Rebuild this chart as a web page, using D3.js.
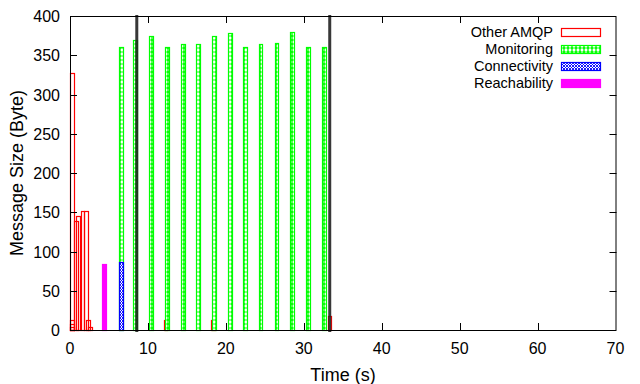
<!DOCTYPE html>
<html><head><meta charset="utf-8">
<script src="https://cdn.jsdelivr.net/npm/d3@7"></script>
<style>body{margin:0;background:#fff}svg{display:block}text{font-family:"Liberation Sans",Arial,sans-serif}</style>
</head><body>
<script>
// Data (time in s, message size in bytes)
const otherAMQP = [
  [0.3,327],[0.3,13],[0.3,8],[0.3,4],[0.75,139],[1.0,145],[1.6,152],[2.0,152],
  [2.35,13],[2.6,4],[12.25,13],[18.3,13],[33.3,18]
];
const monitoring = [
  [6.49,360],[8.3,370],[10.45,375],[12.5,361],[14.45,364],[16.45,364],[18.5,375],
  [20.5,378],[22.5,361],[24.45,364],[26.5,365],[28.5,379],[30.5,360],[32.55,361]
];
const connectivity = [[6.49,86]];
const reachability = [[4.41,84]];
const events = [8.57, 33.33];
const xTicks = [0,10,20,30,40,50,60,70];
const yTicks = [0,50,100,150,200,250,300,350,400];
const seriesNames = ["Other AMQP","Monitoring","Connectivity","Reachability"];
const boxWidth = 0.5;

const W=640,H=384;
const L=70,R=616.5,T=16,B=330;
const x=d3.scaleLinear().domain([0,70]).range([L,R-1]);
const y=d3.scaleLinear().domain([0,400]).range([B,T]);

const svg=d3.select("body").append("svg").attr("width",W).attr("height",H);
const defs=svg.append("defs");
const pg=defs.append("pattern").attr("id","pGreen").attr("patternUnits","userSpaceOnUse").attr("width",4).attr("height",4);
pg.append("rect").attr("width",4).attr("height",4).attr("fill","#00ff00");
pg.append("ellipse").attr("cx",2).attr("cy",2).attr("rx",1.5).attr("ry",1.7).attr("fill","#ffffff");
const pb=defs.append("pattern").attr("id","pBlue").attr("patternUnits","userSpaceOnUse").attr("width",3).attr("height",3);
pb.append("rect").attr("width",3).attr("height",3).attr("fill","#fff");
pb.append("path").attr("d","M0,0L3,3M3,0L0,3").attr("stroke","#0000ff").attr("stroke-width",0.9);

const styles=[
  {fill:"none",stroke:"#ff0000"},
  {fill:"url(#pGreen)",stroke:"#00ff00"},
  {fill:"url(#pBlue)",stroke:"#0000ff"},
  {fill:"#ff00ff",stroke:"#ff00ff"}
];
const allSeries=[otherAMQP,monitoring,connectivity,reachability];

const plot=svg.append("g");
allSeries.forEach((data,i)=>{
  plot.selectAll(null).data(data).enter().append("rect")
    .attr("x",d=>Math.round(x(d[0]-boxWidth/2))+0.5)
    .attr("y",d=>Math.round(y(d[1]))+0.5)
    .attr("width",d=>Math.round(x(d[0]+boxWidth/2))-Math.round(x(d[0]-boxWidth/2)))
    .attr("height",d=>B-Math.round(y(d[1])))
    .attr("fill",styles[i].fill).attr("stroke",styles[i].stroke).attr("stroke-width",1.2);
});

// event lines
svg.selectAll(null).data(events).enter().append("line")
  .attr("x1",d=>x(d)).attr("x2",d=>x(d)).attr("y1",T-1).attr("y2",B+2)
  .attr("stroke","#222").attr("stroke-width",3).attr("stroke-opacity",0.9);

// frame
svg.append("rect").attr("x",L+0.5).attr("y",T+0.5).attr("width",R-L-1).attr("height",B-T)
  .attr("fill","none").attr("stroke","#000").attr("stroke-width",1);

const tl=7;
const ax=svg.append("g").attr("stroke","#000").attr("stroke-width",1);
xTicks.slice(1,-1).forEach(t=>{
  const px=Math.round(x(t))+0.5;
  ax.append("line").attr("x1",px).attr("x2",px).attr("y1",B).attr("y2",B-tl);
  ax.append("line").attr("x1",px).attr("x2",px).attr("y1",T).attr("y2",T+tl);
});
yTicks.slice(1,-1).forEach(t=>{
  const py=Math.round(y(t))+0.5;
  ax.append("line").attr("x1",L).attr("x2",L+tl).attr("y1",py).attr("y2",py);
  ax.append("line").attr("x1",R).attr("x2",R-tl).attr("y1",py).attr("y2",py);
});
svg.selectAll(null).data(xTicks).enter().append("text")
  .attr("x",d=>x(d)).attr("y",354).attr("text-anchor","middle").attr("font-size",16).attr("fill","#000").text(d=>d);
svg.selectAll(null).data(yTicks).enter().append("text")
  .attr("x",60).attr("y",d=>y(d)+6).attr("text-anchor","end").attr("font-size",16).attr("fill","#000").text(d=>d);

svg.append("text").attr("x",343).attr("y",381).attr("text-anchor","middle").attr("font-size",18).attr("fill","#000").text("Time (s)");
svg.append("text").attr("transform","translate(23,173) rotate(-90)").attr("text-anchor","middle").attr("font-size",18).attr("fill","#000").text("Message Size (Byte)");

// legend
const lg=svg.append("g");
seriesNames.forEach((n,i)=>{
  const cy=32+i*17;
  lg.append("text").attr("x",553).attr("y",cy+5).attr("text-anchor","end").attr("font-size",14.5).attr("fill","#000").text(n);
  lg.append("rect").attr("x",561.5).attr("y",cy-3.5).attr("width",39).attr("height",8)
    .attr("fill",i===0?"#fff":styles[i].fill).attr("stroke",styles[i].stroke).attr("stroke-width",1.2);
});
</script>
</body></html>
